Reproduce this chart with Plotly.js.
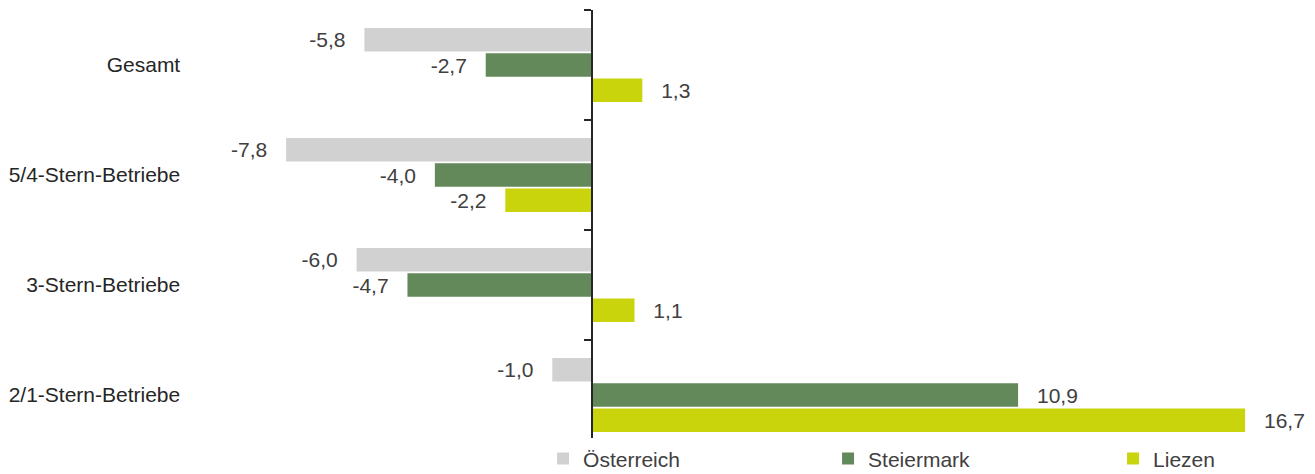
<!DOCTYPE html>
<html><head><meta charset="utf-8">
<script src="https://cdn.plot.ly/plotly-3.0.1.min.js"></script>
<style>html,body{margin:0;padding:0;background:#fff;}#chart{width:1315px;height:474px;}</style>
</head><body><div id="chart"></div>
<script>
const categories = ['Gesamt', '5/4-Stern-Betriebe', '3-Stern-Betriebe', '2/1-Stern-Betriebe'];
const seriesNames = ['Österreich', 'Steiermark', 'Liezen'];
const oesterreich = [-5.8, -7.8, -6.0, -1.0];
const steiermark = [-2.7, -4.0, -4.7, 10.9];
const liezen = [1.3, -2.2, 1.1, 16.7];
const colors = ['#d1d1d1', '#63895a', '#c9d40d'];

const pad = '\u00a0\u00a0\u2009';
const values = [oesterreich, steiermark, liezen];
const traces = values.map((v, i) => ({
  type: 'bar', orientation: 'h', name: seriesNames[i],
  x: v, y: categories,
  marker: {color: colors[i]},
  texttemplate: v.map(d => d < 0 ? '%{x:.1f}' + pad : pad + '%{x:.1f}'),
  textposition: 'outside', cliponaxis: false, constraintext: 'none',
  textfont: {family: 'Liberation Sans, Arial', size: 21, color: '#404040'},
  hoverinfo: 'none'
}));

const layout = {
  width: 1315, height: 474,
  margin: {l: 200, r: 19, t: 10, b: 24, autoexpand: false},
  separators: ',.',
  barmode: 'group', bargap: 0.31, bargroupgap: 0.07,
  font: {family: 'Liberation Sans, Arial', size: 21, color: '#404040'},
  showlegend: true,
  legend: {orientation: 'h', x: 0.313, xanchor: 'left', y: -0.02, yanchor: 'middle',
    entrywidth: 240, entrywidthmode: 'pixels', traceorder: 'normal',
    font: {family: 'Liberation Sans, Arial', size: 21, color: '#404040'}, itemwidth: 30},
  xaxis: {range: [-10, 18], showgrid: false, zeroline: false, showticklabels: false, showline: false, fixedrange: true},
  yaxis: {type: 'category', autorange: false, range: [3.5, -0.5], anchor: 'free', position: 10/28,
    showline: true, linecolor: '#262626', linewidth: 1.5,
    ticks: 'outside', tickson: 'boundaries', ticklen: 7, tickcolor: '#262626', tickwidth: 1.5,
    ticklabelstandoff: 407, showgrid: false, zeroline: false,
    tickfont: {family: 'Liberation Sans, Arial', size: 21, color: '#262626'}}
};
Plotly.newPlot('chart', traces, layout, {displayModeBar: false, staticPlot: true});
</script></body></html>
